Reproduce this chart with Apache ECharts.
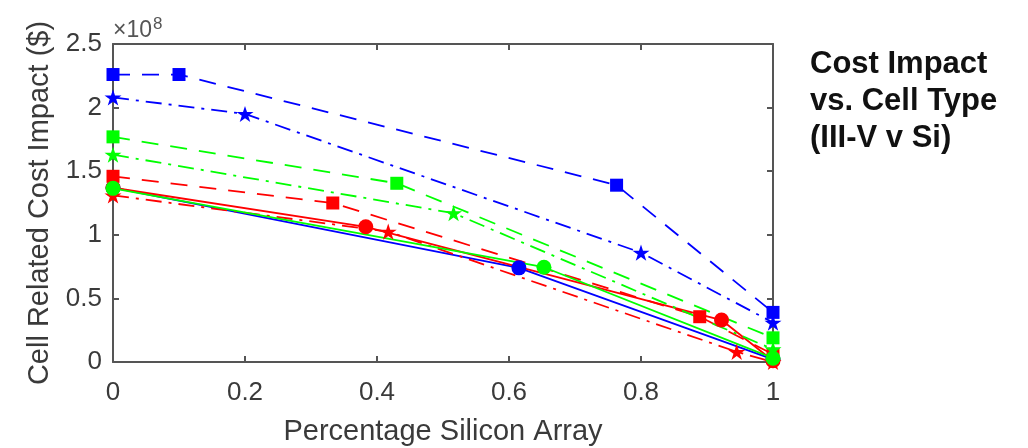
<!DOCTYPE html>
<html><head><meta charset="utf-8">
<script src="https://cdn.jsdelivr.net/npm/echarts@6/dist/echarts.min.js"></script>
<style>html,body{margin:0;padding:0;background:#fff}#c{width:1028px;height:448px}</style>
</head><body><div id="c"></div>
<script>
// Tick labels
const xTickLabels = ['0', '0.2', '0.4', '0.6', '0.8', '1'];
const yTickLabels = ['0', '0.5', '1', '1.5', '2', '2.5'];

// Percentage silicon array (x) and cell related cost impact in units of 1e8 $ (y)
const blueSquareX = [0, 0.1, 0.763, 1];
const blueSquareY = [2.26, 2.26, 1.39, 0.39];
const blueStarX = [0, 0.2, 0.8, 1];
const blueStarY = [2.08, 1.95, 0.86, 0.31];
const blueCircleX = [0, 0.615, 1];
const blueCircleY = [1.37, 0.74, 0.02];

const redSquareX = [0, 0.333, 0.889, 1];
const redSquareY = [1.46, 1.25, 0.356, 0.06];
const redStarX = [0, 0.417, 0.945, 1];
const redStarY = [1.31, 1.025, 0.08, 0.0];
const redCircleX = [0, 0.383, 0.922, 1];
const redCircleY = [1.37, 1.063, 0.33, 0.01];

const greenSquareX = [0, 0.43, 1];
const greenSquareY = [1.77, 1.405, 0.19];
const greenStarX = [0, 0.516, 1];
const greenStarY = [1.63, 1.17, 0.1];
const greenCircleX = [0, 0.653, 1];
const greenCircleY = [1.365, 0.745, 0.03];

const STAR = 'path://M50 0 L61.23 34.55 L97.55 34.55 L68.17 55.9 L79.39 90.45 L50 69.1 L20.61 90.45 L31.83 55.9 L2.45 34.55 L38.77 34.55 Z';
const DASH = [17, 12];
const DASHDOT = [16, 7, 3, 7];

function mk(name, xs, ys, color, dash, symbol, size) {
  return {
    name: name, type: 'line', clip: false,
    data: xs.map((x, i) => [x, ys[i]]),
    symbol: symbol, symbolSize: size, symbolKeepAspect: true,
    showAllSymbol: true,
    itemStyle: { color: color, borderWidth: 0 },
    lineStyle: { color: color, width: 1.8, type: dash },
    emphasis: { disabled: true },
    z: 2
  };
}

const BLUE = '#0000ff', RED = '#ff0000', GREEN = '#00ff00';
const series = [
  mk('Blue dashed', blueSquareX, blueSquareY, BLUE, DASH, 'rect', 13),
  mk('Blue dash-dot', blueStarX, blueStarY, BLUE, DASHDOT, STAR, 17),
  mk('Blue solid', blueCircleX, blueCircleY, BLUE, 'solid', 'circle', 15),
  mk('Red dashed', redSquareX, redSquareY, RED, DASH, 'rect', 13),
  mk('Red dash-dot', redStarX, redStarY, RED, DASHDOT, STAR, 17),
  mk('Red solid', redCircleX, redCircleY, RED, 'solid', 'circle', 15),
  mk('Green dashed', greenSquareX, greenSquareY, GREEN, DASH, 'rect', 13),
  mk('Green dash-dot', greenStarX, greenStarY, GREEN, DASHDOT, STAR, 17),
  mk('Green solid', greenCircleX, greenCircleY, GREEN, 'solid', 'circle', 15)
];

const AX = '#555555', TXT = '#3a3a3a';
const FONT = 'Liberation Sans, Arial, sans-serif';

const chart = echarts.init(document.getElementById('c'), null, { renderer: 'canvas' });
chart.setOption({
  animation: false,
  backgroundColor: '#ffffff',
  grid: { left: 113, top: 44, width: 660, height: 318, containLabel: false, outerBoundsMode: 'none' },
  xAxis: [{
    type: 'value', min: 0, max: 1, interval: 0.2, position: 'bottom',
    name: 'Percentage Silicon Array', nameLocation: 'middle', nameGap: 55,
    nameTextStyle: { fontFamily: FONT, fontSize: 29, color: TXT },
    axisLine: { show: true, onZero: false, lineStyle: { color: AX, width: 2 } },
    axisTick: { show: true, inside: true, length: 6, lineStyle: { color: AX, width: 2 } },
    axisLabel: { margin: 18, fontFamily: FONT, fontSize: 26, color: TXT,
      formatter: v => xTickLabels[Math.round(v / 0.2)] },
    splitLine: { show: false }
  }, {
    type: 'value', min: 0, max: 1, interval: 0.2, position: 'top',
    axisLine: { show: true, onZero: false, lineStyle: { color: AX, width: 2 } },
    axisTick: { show: true, inside: true, length: 6, lineStyle: { color: AX, width: 2 } },
    axisLabel: { show: false }, splitLine: { show: false }
  }],
  yAxis: [{
    type: 'value', min: 0, max: 2.5, interval: 0.5, position: 'left',
    name: 'Cell Related Cost Impact ($)', nameLocation: 'middle', nameGap: 51,
    nameRotate: 90,
    nameTextStyle: { fontFamily: FONT, fontSize: 29, color: TXT },
    axisLine: { show: true, onZero: false, lineStyle: { color: AX, width: 2 } },
    axisTick: { show: true, inside: true, length: 6, lineStyle: { color: AX, width: 2 } },
    axisLabel: { margin: 11, fontFamily: FONT, fontSize: 26, color: TXT,
      formatter: v => yTickLabels[Math.round(v / 0.5)] },
    splitLine: { show: false }
  }, {
    type: 'value', min: 0, max: 2.5, interval: 0.5, position: 'right',
    axisLine: { show: true, onZero: false, lineStyle: { color: AX, width: 2 } },
    axisTick: { show: true, inside: true, length: 6, lineStyle: { color: AX, width: 2 } },
    axisLabel: { show: false }, splitLine: { show: false }
  }],
  graphic: [{
    type: 'text', left: 113, top: 16,
    style: {
      text: '{a|×10}{b|8}',
      rich: {
        a: { fontFamily: FONT, fontSize: 23, fill: '#555555', verticalAlign: 'bottom', lineHeight: 26 },
        b: { fontFamily: FONT, fontSize: 17, fill: '#555555', verticalAlign: 'top', lineHeight: 26, padding: [0, 0, 8, 1] }
      }
    }
  }, {
    type: 'text', left: 810, top: 46,
    style: {
      text: 'Cost Impact\nvs. Cell Type\n(III-V v Si)',
      fontFamily: FONT, fontWeight: 'bold', fontSize: 31, lineHeight: 37, fill: '#111111'
    }
  }],
  series: series
});
</script>
</body></html>
